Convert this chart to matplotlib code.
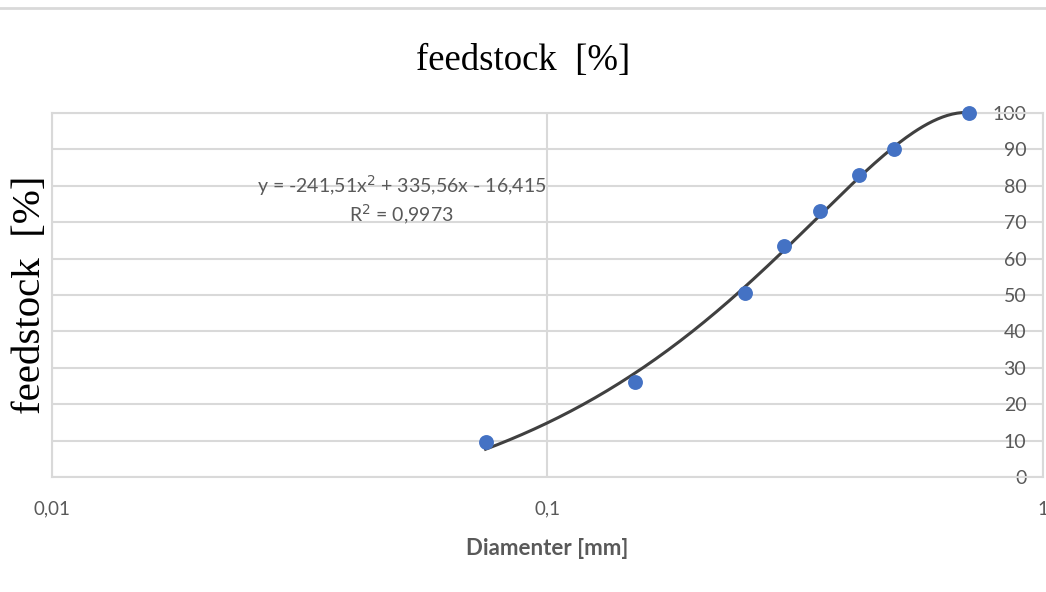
import numpy as np
import matplotlib
matplotlib.use("Agg")
import matplotlib.pyplot as plt
from matplotlib.lines import Line2D
from matplotlib.ticker import FixedLocator, FixedFormatter

# sieve data
diam = [0.075, 0.15, 0.25, 0.3, 0.355, 0.425, 0.5, 0.71]
feed = [9.5, 26, 50.5, 63.5, 73, 83, 90, 100]

xticks = [0.01, 0.1, 1]
xtick_labels = ["0,01", "0,1", "1"]
yticks = [0, 10, 20, 30, 40, 50, 60, 70, 80, 90, 100]

eq_text = "y = -241,51x$^2$ + 335,56x - 16,415\nR$^2$ = 0,9973"

grid_c = "#d9d9d9"
txt_c = "#595959"

fig = plt.figure(figsize=(10.46, 5.92), dpi=100)
ax = fig.add_axes([0.0497, 0.1943, 0.9474, 0.6148])

# polynomial trendline (2nd order, like excel)
coef = np.polyfit(diam, feed, 2)
xx = np.geomspace(min(diam), max(diam), 200)
ax.plot(xx, np.polyval(coef, xx), color="#404040", lw=2.2, zorder=3, clip_on=False)
ax.scatter(diam, feed, s=115, color="#4472C4", zorder=4, clip_on=False, lw=0)

ax.set_xscale("log")
ax.set_xlim(0.01, 1)
ax.set_ylim(0, 100)
ax.xaxis.set_major_locator(FixedLocator(xticks))
ax.xaxis.set_major_formatter(FixedFormatter(xtick_labels))
ax.xaxis.set_minor_locator(FixedLocator([]))
ax.set_yticks(yticks)
ax.yaxis.tick_right()
ax.tick_params(axis="y", length=0, pad=-12, labelsize=14, labelcolor=txt_c)
ax.tick_params(axis="x", length=0, pad=17, labelsize=13.5, labelcolor=txt_c)
for lab in ax.get_yticklabels():
    lab.set_horizontalalignment("right")
    lab.set_fontfamily("Lato")
for lab in ax.get_xticklabels():
    lab.set_fontfamily("Lato")

ax.grid(True, color=grid_c, lw=1.5)
ax.set_axisbelow(True)
for sp in ax.spines.values():
    sp.set_color(grid_c)
    sp.set_linewidth(1.5)

ax.text(0.353, 0.762, eq_text, transform=ax.transAxes, ha="center", va="center",
        fontsize=14, color=txt_c, family="Lato", linespacing=1.25)

ax.set_xlabel("Diamenter [mm]", fontsize=16, fontweight="bold", color=txt_c,
              family="Lato", labelpad=15)

fig.text(0.5, 0.898, "feedstock  [%]", ha="center", va="center",
         fontsize=26.5, family="Liberation Serif")
fig.text(0.0287, 0.502, "feedstock  [%]", ha="center", va="center",
         rotation=90, fontsize=29.5, family="Liberation Serif")

fig.add_artist(Line2D([0, 1], [1 - 8 / 592, 1 - 8 / 592], color=grid_c, lw=2,
                      transform=fig.transFigure))

fig.savefig("out.png", dpi=100)
plt.close(fig)
